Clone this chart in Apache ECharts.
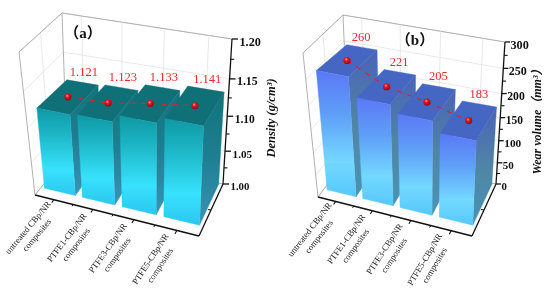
<!DOCTYPE html>
<html><head><meta charset="utf-8">
<style>html,body{margin:0;padding:0;background:#fff}#c{width:550px;height:292px;filter:blur(0.3px)}</style>
<script src="https://cdn.jsdelivr.net/npm/echarts@6/dist/echarts.min.js"></script>
</head><body><div id="c"></div>
<script>
const categories=['untreated CBp/NR\ncomposites','PTFE1-CBp/NR\ncomposites','PTFE3-CBp/NR\ncomposites','PTFE5-CBp/NR\ncomposites'];
const densityValues=[1.121,1.123,1.133,1.141];
const wearValues=[260,221,205,183];
const densityTicks=[1.00,1.05,1.10,1.15,1.20];
const wearTicks=[0,50,100,150,200,250,300];
const densityLabels=['1.121','1.123','1.133','1.141'];
const wearLabels=['260','221','205','183'];

const SERIF='"Liberation Serif","Noto Sans CJK SC",serif';
const panels=[
 {name:'a',title:'（a）',titlePos:[83,34.5],yTitle:'Density (g/cm³)',yTitlePos:[272,118],yTitleSize:12.5,
  values:densityValues,labels:densityLabels,ticks:densityTicks,min:1,max:1.2,step:0.05,dec:2,
  tickLen:6,tickGap:7.5,valDx:1.5,rot0:50,rotStep:2.2,
  c:{FL0:[35,195],FR0:[199,236],BL0:[67,155],BR0:[223,184],FL1:[19,52],FR1:[205,85],BL1:[62,13],BR1:[232,39]},
  top:'#0f7078',
  front:[[0,'#0f98a3'],[0.3,'#1cb6c6'],[0.7,'#38e2fc'],[1,'#2bc6f0']],
  side:[[0,'#10737b'],[0.5,'#1f7f92'],[1,'#3a93b8']]},
 {name:'b',title:'（b）',titlePos:[415,41],yTitle:'Wear volume（mm³）',yTitlePos:[538,119],yTitleSize:12,
  values:wearValues,labels:wearLabels,ticks:wearTicks,min:0,max:300,step:50,dec:0,
  tickLen:5,tickGap:5.5,valDx:-0.5,rot0:52,rotStep:2.3,
  c:{FL0:[318,197],FR0:[472,236],BL0:[349,155],BR0:[496,184],FL1:[303,53],FR1:[478,85],BL1:[343,15],BR1:[505,42]},
  top:'#4566c2',
  front:[[0,'#5a78f5'],[0.35,'#5f9ff8'],[0.72,'#74d8ff'],[1,'#55c8fa']],
  side:[[0,'#4a62b8'],[0.5,'#4f85a5'],[1,'#4a93b5']]}
];
const KZ=0.14,KU=0.1,D0=0.19,D1=0.98,BAR=0.82;
const warp=(t,k)=>t/(1+k*(1-t));
function P(p,u,d,z){
 const a=warp(u,KU),b=warp(z,KZ),c=p.c;
 const f=i=>{
  const f0=c.FL0[i]*(1-a)+c.FR0[i]*a, b0=c.BL0[i]*(1-a)+c.BR0[i]*a;
  const f1=c.FL1[i]*(1-a)+c.FR1[i]*a, b1=c.BL1[i]*(1-a)+c.BR1[i]*a;
  const lo=f0*(1-d)+b0*d, hi=f1*(1-d)+b1*d;
  return lo*(1-b)+hi*b;};
 return [f(0),f(1)];
}
// bar tops sit slightly under the wall scale as they recede
const sag=(z,d)=>z*(0.988-0.045*d);
const PT=(p,u,d,z)=>P(p,u,d,sag(z,d));
function norm(params,pt){const s=params.coordSys;return [(pt[0]-s.x)/s.width,(s.y+s.height-pt[1])/s.height];}
const seg=(a,b,stroke,w,dash)=>({type:'line',shape:{x1:a[0],y1:a[1],x2:b[0],y2:b[1]},style:{stroke,lineWidth:w,lineDash:dash||null}});
const poly=(pts,fill)=>({type:'polygon',shape:{points:pts},style:{fill,stroke:fill,lineWidth:0.4}});
const grad=st=>new echarts.graphic.LinearGradient(0,0,0,1,st.map(s=>({offset:s[0],color:s[1]})));
const GRID='#e3e3e3',FRAME='#a8a8a8',AX='#111';

const series=[];
panels.forEach((p,pi)=>{
 const base={type:'custom',xAxisIndex:pi,yAxisIndex:pi,silent:true,animation:false,clip:false};
 const barData=p.values.map((v,i)=>[i,v]);
 const tickData=p.ticks.map(v=>[0,v]);
 const minorData=p.ticks.slice(0,-1).map(v=>[0,v+p.step/2]);
 const catData=categories.map((n,i)=>[i,p.min]);

 series.push(Object.assign({},base,{z:1,data:tickData,renderItem(params,api){
  const z=norm(params,api.coord([0,api.value(1)]))[1];
  return {type:'group',children:[
   seg(P(p,0,0,z),P(p,0,1,z),GRID,0.8),
   seg(P(p,0,1,z),P(p,1,1,z),GRID,0.8)]};
 }}));
 series.push(Object.assign({},base,{z:1,data:catData,renderItem(params,api){
  const u=norm(params,api.coord([api.value(0),p.min]))[0];
  const ch=[seg(P(p,u,1,0),P(p,u,1,1),GRID,0.8)];
  if(params.dataIndex===0){
   ch.push(seg(P(p,0,0.5,0),P(p,0,0.5,1),GRID,0.8));
   ch.push(seg(P(p,0,0,1),P(p,0,1,1),FRAME,0.9));
   ch.push(seg(P(p,0,1,1),P(p,1,1,1),FRAME,0.9));
   ch.push(seg(P(p,0,0,0),P(p,0,0,1),FRAME,0.9));
   ch.push(seg(P(p,0,1,0),P(p,0,1,1),FRAME,0.9));
   ch.push(seg(P(p,0,0,0),P(p,0,1,0),FRAME,0.9));
   ch.push(seg(P(p,0,1,0),P(p,1,1,0),FRAME,0.9));
  }
  return {type:'group',children:ch};
 }}));
 series.push(Object.assign({},base,{z:2,data:barData,renderItem(params,api){
  const c=norm(params,api.coord([api.value(0),api.value(1)]));
  const bw=api.size([1,0])[0]/params.coordSys.width*BAR/2;
  const l=c[0]-bw,r=c[0]+bw,z=c[1];
  return {type:'group',children:[
   poly([PT(p,r,D0,z),PT(p,r,D1,z),P(p,r,D1,0),P(p,r,D0,0)],grad(p.side)),
   poly([PT(p,l,D0,z),PT(p,r,D0,z),PT(p,r,D1,z),PT(p,l,D1,z)],p.top),
   poly([PT(p,l,D0,z),PT(p,r,D0,z),P(p,r,D0,0),P(p,l,D0,0)],grad(p.front))
  ]};
 }}));
 series.push(Object.assign({},base,{z:3,data:tickData,renderItem(params,api){
  const v=api.value(1),z=norm(params,api.coord([0,v]))[1],q=P(p,1,1,z);
  const fs=(10.8+1.4*z).toFixed(1);
  const ch=[seg(q,[q[0]+p.tickLen,q[1]],AX,1.3),
   {type:'text',style:{text:v.toFixed(p.dec),x:q[0]+p.tickGap,y:q[1]+3.5,fill:'#111',font:'bold '+fs+'px '+SERIF,align:'left',verticalAlign:'middle'}}];
  if(params.dataIndex===0){
   ch.push(seg(P(p,1,1,0),P(p,1,1,1),AX,1.3));
   ch.push(seg(P(p,0,0,0),P(p,1,0,0),AX,1.3));
   ch.push(seg(P(p,1,0,0),P(p,1,1,0),AX,1.3));
   const m=P(p,1,0.5,0);ch.push(seg(m,[m[0]-3,m[1]-0.5],AX,1.1));
  }
  return {type:'group',children:ch};
 }}));
 series.push(Object.assign({},base,{z:3,data:minorData,renderItem(params,api){
  const z=norm(params,api.coord([0,api.value(1)]))[1],q=P(p,1,1,z);
  return seg(q,[q[0]+3.5,q[1]],AX,1.1);
 }}));
 series.push(Object.assign({},base,{z:3,data:catData,renderItem(params,api){
  const i=api.value(0),u=norm(params,api.coord([i,p.min]))[0];
  const q=P(p,u,0,0),t=P(p,u,-0.07,0);
  const h=api.size([1,0])[0]/params.coordSys.width/2;
  const ch=[seg(q,t,AX,1.1),
   {type:'text',x:q[0]-21,y:q[1]+32,rotation:(p.rot0+p.rotStep*i)*Math.PI/180,
    style:{text:categories[i],fill:'#222',font:'8.8px '+SERIF,align:'center',verticalAlign:'middle',lineHeight:11.5}}];
  if(i<categories.length-1){const m=P(p,u+h,0,0);ch.push(seg(m,P(p,u+h,-0.04,0),AX,1));}
  return {type:'group',children:ch};
 }}));
 series.push(Object.assign({},base,{z:4,data:barData,renderItem(params,api){
  const i=api.value(0);
  if(i>=p.values.length-1)return null;
  const a=norm(params,api.coord([i,api.value(1)])),b=norm(params,api.coord([i+1,p.values[i+1]]));
  const dm=(D0+D1)/2;
  return seg(PT(p,a[0],dm,a[1]),PT(p,b[0],dm,b[1]),'#e02030',1.2,[5,6]);
 }}));
 series.push(Object.assign({},base,{z:5,data:barData,renderItem(params,api){
  const c=norm(params,api.coord([api.value(0),api.value(1)]));
  const dm=(D0+D1)/2,q=PT(p,c[0],dm,c[1]),back=PT(p,c[0],D1,c[1]);
  return {type:'group',children:[
   {type:'circle',shape:{cx:q[0],cy:q[1],r:3.6},style:{fill:new echarts.graphic.RadialGradient(0.4,0.35,0.65,[{offset:0,color:'#ff9a9a'},{offset:0.35,color:'#e0182a'},{offset:1,color:'#8c0a16'}])}},
   {type:'text',style:{text:p.labels[params.dataIndex],x:back[0]+p.valDx,y:back[1]-9.5,fill:'#f0282e',font:'12.5px '+SERIF,align:'center',verticalAlign:'middle'}}
  ]};
 }}));
 series.push(Object.assign({},base,{z:5,data:[[0,p.min]],renderItem(){
  return {type:'group',children:[
   {type:'text',style:{text:p.title,x:p.titlePos[0],y:p.titlePos[1],fill:'#111',font:'bold 15px '+SERIF,align:'center',verticalAlign:'middle'}},
   {type:'text',x:p.yTitlePos[0],y:p.yTitlePos[1],rotation:Math.PI/2,style:{text:p.yTitle,fill:'#111',font:'italic bold '+p.yTitleSize+'px '+SERIF,align:'center',verticalAlign:'middle'}}
  ]};
 }}));
});
const chart=echarts.init(document.getElementById('c'),null,{renderer:'canvas'});
chart.setOption({
 animation:false,backgroundColor:'#fff',
 grid:[{left:0,top:0,width:250,height:292},{left:280,top:0,width:250,height:292}],
 xAxis:panels.map((p,i)=>({type:'category',gridIndex:i,show:false,data:categories})),
 yAxis:panels.map((p,i)=>({type:'value',gridIndex:i,show:false,min:p.min,max:p.max,interval:p.step})),
 series
});
</script></body></html>
